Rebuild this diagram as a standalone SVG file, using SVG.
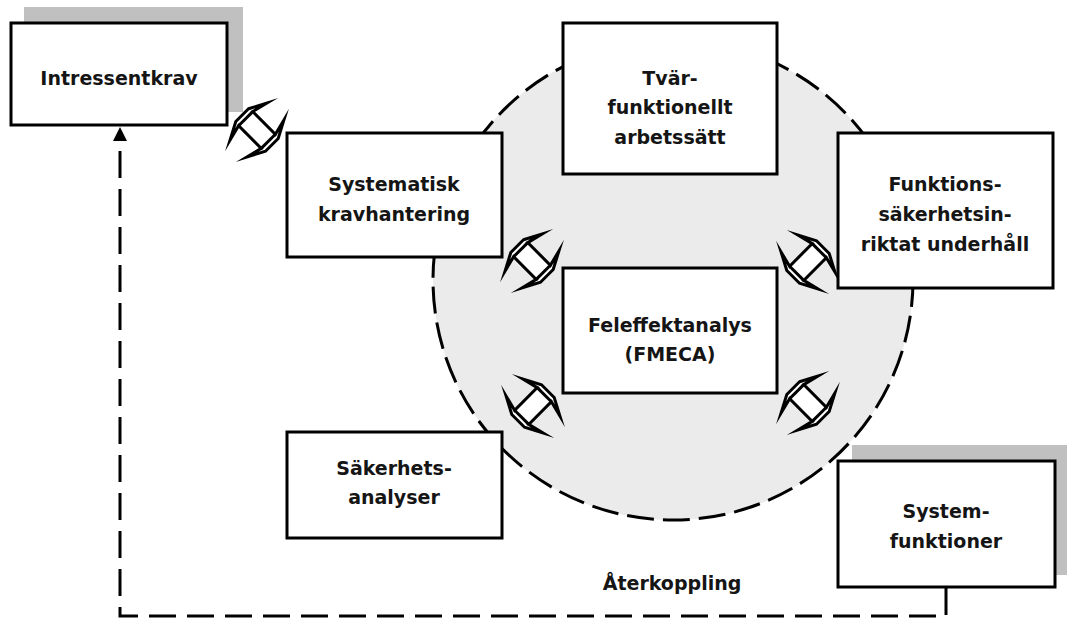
<svg xmlns="http://www.w3.org/2000/svg" width="1067" height="619" viewBox="0 0 1067 619">
<style>
.box{fill:#fff;stroke:#000;stroke-width:3}
.shadow{fill:#c0c0c0}
.t{font-family:"DejaVu Sans","Liberation Sans",sans-serif;font-weight:bold;font-size:19px;fill:#151515;text-anchor:middle}
.dash{fill:none;stroke:#000;stroke-width:3;stroke-dasharray:27 11}
.arr{fill:#fff;stroke:#000;stroke-width:3;stroke-linejoin:miter;stroke-miterlimit:20}
</style>
<defs>
<g id="dbl">
<polygon class="arr" points="-21,-9 -12,-26 -16,-10 16,-10 12,-26 21,-9 21,9 12,26 16,10 -16,10 -12,26 -21,9"/>
<line x1="-16" y1="-10" x2="-16" y2="10" stroke="#000" stroke-width="3"/>
<line x1="16" y1="-10" x2="16" y2="10" stroke="#000" stroke-width="3"/>
</g>
</defs>
<rect width="1067" height="619" fill="#fff"/>
<circle cx="673" cy="280" r="240" fill="#ebebeb" stroke="#000" stroke-width="3" stroke-dasharray="27 9"/>
<g id="connectors">
<path class="dash" d="M946,588 V616 H120 V140"/>
<polygon points="120,127 113,141 127,141" fill="#000"/>
<use href="#dbl" transform="translate(257,130) rotate(45)"/>
<use href="#dbl" transform="translate(532,261) rotate(45)"/>
<use href="#dbl" transform="translate(533,406) rotate(-45)"/>
<use href="#dbl" transform="translate(808,262) rotate(-45)"/>
<use href="#dbl" transform="translate(808,403) rotate(45)"/>
<text class="t" x="672" y="590">Återkoppling</text>
</g>
<g id="intressentkrav">
<rect class="shadow" x="24" y="7" width="219" height="105"/>
<rect class="box" x="11" y="23" width="216" height="102"/>
<text class="t" x="119" y="85">Intressentkrav</text>
</g>
<g id="systematisk">
<rect class="box" x="287" y="133" width="215" height="124"/>
<text class="t" x="394" y="191">Systematisk</text>
<text class="t" x="394" y="221">kravhantering</text>
</g>
<g id="tvar">
<rect class="box" x="563" y="23" width="214" height="151"/>
<text class="t" x="670" y="85">Tvär-</text>
<text class="t" x="670" y="114">funktionellt</text>
<text class="t" x="670" y="144">arbetssätt</text>
</g>
<g id="funktions">
<rect class="box" x="838" y="133" width="215" height="155"/>
<text class="t" x="945" y="191">Funktions-</text>
<text class="t" x="945" y="221">säkerhetsin-</text>
<text class="t" x="945" y="251">riktat underhåll</text>
</g>
<g id="fmeca">
<rect class="box" x="563" y="268" width="214" height="125"/>
<text class="t" x="670" y="332">Feleffektanalys</text>
<text class="t" x="670" y="361">(FMECA)</text>
</g>
<g id="sakerhets">
<rect class="box" x="287" y="432" width="215" height="106"/>
<text class="t" x="394" y="475">Säkerhets-</text>
<text class="t" x="394" y="504">analyser</text>
</g>
<g id="systemfunktioner">
<rect class="shadow" x="852" y="445" width="220" height="130"/>
<rect class="box" x="838" y="461" width="217" height="126"/>
<text class="t" x="946" y="518">System-</text>
<text class="t" x="946" y="548">funktioner</text>
</g>
</svg>
